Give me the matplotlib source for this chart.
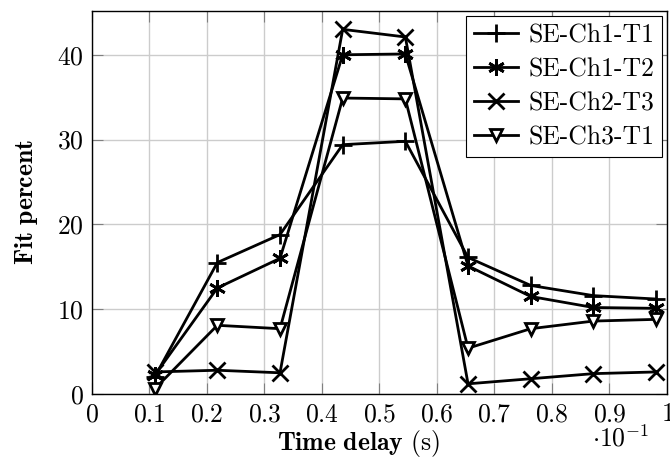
import matplotlib
matplotlib.use("Agg")
import matplotlib.pyplot as plt
from matplotlib.ticker import FuncFormatter, MultipleLocator

plt.rcParams['mathtext.fontset'] = 'cm'
plt.rcParams['font.family'] = ['cmr10', 'DejaVu Serif']
plt.rcParams['axes.unicode_minus'] = False
plt.rcParams['axes.formatter.use_mathtext'] = True

# Time delay in units of 10^-1 s
time_delay = [0.109, 0.218, 0.327, 0.436, 0.545, 0.654, 0.763, 0.872, 0.981]

labels = ["SE-Ch1-T1", "SE-Ch1-T2", "SE-Ch2-T3", "SE-Ch3-T1"]
se_ch1_t1 = [2.0, 15.5, 18.8, 29.4, 29.8, 16.1, 12.8, 11.6, 11.2]
se_ch1_t2 = [2.2, 12.5, 16.0, 40.0, 40.1, 15.1, 11.5, 10.2, 10.1]
se_ch2_t3 = [2.6, 2.8, 2.5, 43.0, 42.1, 1.2, 1.8, 2.4, 2.6]
se_ch3_t1 = [0.6, 8.1, 7.7, 34.9, 34.8, 5.4, 7.7, 8.6, 8.8]

series = [se_ch1_t1, se_ch1_t2, se_ch2_t3, se_ch3_t1]
markers = ['+', (6, 2, 0), 'x', 'v']
msizes = [13, 12, 11, 8]

FS = 18.5

fig = plt.figure(figsize=(6.7, 4.65), dpi=100)
ax = fig.add_axes([0.1373, 0.1527, 0.8582, 0.8243])

for vals, lab, m, ms in zip(series, labels, markers, msizes):
    ax.plot(time_delay, vals, color='black', linewidth=2.0, marker=m,
            markersize=ms, markeredgewidth=2.0, markerfacecolor='white',
            markeredgecolor='black', label=lab)

ax.set_xlim(0, 1.0)
ax.set_ylim(0, 45.2)
ax.xaxis.set_major_locator(MultipleLocator(0.1))
ax.yaxis.set_major_locator(MultipleLocator(10))
ax.xaxis.set_major_formatter(FuncFormatter(lambda v, p: f"${v:.1f}$" if 0 < round(v, 2) < 1 else f"${v:.0f}$"))
ax.yaxis.set_major_formatter(FuncFormatter(lambda v, p: f"${v:.0f}$"))

ax.grid(True, color='#cccccc', linewidth=1.0)
ax.set_axisbelow(True)
ax.tick_params(direction='in', length=8, width=0.8, color='#808080',
               top=True, right=True, labelsize=FS, pad=6)
for s in ax.spines.values():
    s.set_linewidth(1.0)
    s.set_color('black')

ax.set_ylabel(r'$\mathbf{Fit\ percent}$', fontsize=FS, labelpad=12)
ax.set_xlabel(r'$\mathbf{Time\ delay}$ (s)', fontsize=FS)
ax.xaxis.set_label_coords(0.463, -0.088)
ax.text(0.92, -0.1375, r'$\cdot 10^{-1}$', transform=ax.transAxes,
        fontsize=FS, ha='center', va='baseline')

leg = ax.legend(loc='upper right', fontsize=FS, frameon=True, fancybox=False,
                framealpha=1.0, edgecolor='black', handlelength=1.7,
                handletextpad=0.4, labelspacing=0.4, borderpad=0.3,
                borderaxespad=0.2)
leg.get_frame().set_linewidth(0.8)

fig.savefig("out.png", dpi=100)
